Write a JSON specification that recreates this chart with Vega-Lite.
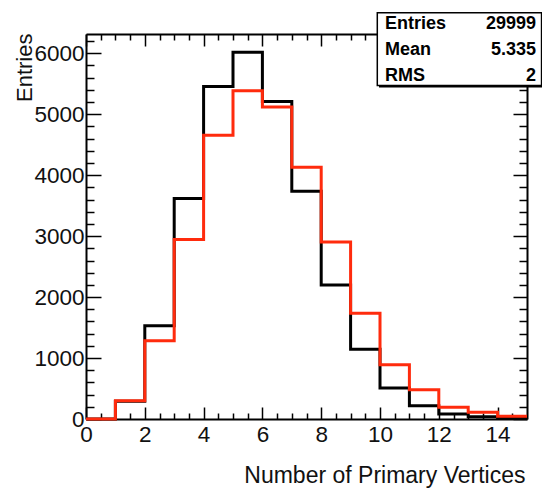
{
  "$schema": "https://vega.github.io/schema/vega-lite/v6.json",
  "width": 441,
  "height": 385,
  "autosize": {"type": "none"},
  "padding": {"left": 86, "top": 34, "right": 15, "bottom": 70},
  "background": "white",
  "config": {
    "view": {"stroke": null},
    "font": "Liberation Sans",
    "axis": {"grid": false, "labelFont": "Liberation Sans", "titleFont": "Liberation Sans", "domainColor": "black", "tickColor": "black"}
  },
  "datasets": {
    "hist": [
      {"series": "black", "lo": 0, "hi": 1, "count": 0},
      {"series": "black", "lo": 1, "hi": 2, "count": 290},
      {"series": "black", "lo": 2, "hi": 3, "count": 1528},
      {"series": "black", "lo": 3, "hi": 4, "count": 3617},
      {"series": "black", "lo": 4, "hi": 5, "count": 5455},
      {"series": "black", "lo": 5, "hi": 6, "count": 6017},
      {"series": "black", "lo": 6, "hi": 7, "count": 5210},
      {"series": "black", "lo": 7, "hi": 8, "count": 3737},
      {"series": "black", "lo": 8, "hi": 9, "count": 2199},
      {"series": "black", "lo": 9, "hi": 10, "count": 1146},
      {"series": "black", "lo": 10, "hi": 11, "count": 507},
      {"series": "black", "lo": 11, "hi": 12, "count": 218},
      {"series": "black", "lo": 12, "hi": 13, "count": 82},
      {"series": "black", "lo": 13, "hi": 14, "count": 35},
      {"series": "black", "lo": 14, "hi": 15, "count": 10},
      {"series": "red", "lo": 0, "hi": 1, "count": 0},
      {"series": "red", "lo": 1, "hi": 2, "count": 300},
      {"series": "red", "lo": 2, "hi": 3, "count": 1282},
      {"series": "red", "lo": 3, "hi": 4, "count": 2946},
      {"series": "red", "lo": 4, "hi": 5, "count": 4654},
      {"series": "red", "lo": 5, "hi": 6, "count": 5385},
      {"series": "red", "lo": 6, "hi": 7, "count": 5117},
      {"series": "red", "lo": 7, "hi": 8, "count": 4130},
      {"series": "red", "lo": 8, "hi": 9, "count": 2902},
      {"series": "red", "lo": 9, "hi": 10, "count": 1735},
      {"series": "red", "lo": 10, "hi": 11, "count": 889},
      {"series": "red", "lo": 11, "hi": 12, "count": 480},
      {"series": "red", "lo": 12, "hi": 13, "count": 191},
      {"series": "red", "lo": 13, "hi": 14, "count": 109},
      {"series": "red", "lo": 14, "hi": 15, "count": 44}
    ],
    "stats": [
      {"stat": "Entries", "value": "29999"},
      {"stat": "Mean", "value": "5.335"},
      {"stat": "RMS", "value": "2"}
    ]
  },
  "resolve": {"axis": {"x": "independent", "y": "independent"}},
  "layer": [
    {
      "data": {"name": "hist"},
      "transform": [{"filter": "datum.series === 'black'"}, {"fold": ["lo", "hi"], "as": ["edge", "xv"]}],
      "mark": {"type": "line", "color": "black", "strokeWidth": 3, "strokeJoin": "miter"},
      "encoding": {
        "x": {"field": "xv", "type": "quantitative", "scale": {"domain": [0, 15], "nice": false, "zero": false},
          "axis": {"orient": "bottom", "values": [0, 2, 4, 6, 8, 10, 12, 14], "format": "d", "ticks": false, "domain": true, "domainWidth": 2,
            "labelFontSize": 22.5, "labelColor": "#111", "labelPadding": 4, "labelFlush": false, "labelOverlap": false,
            "title": "Number of Primary Vertices", "titleFontSize": 23, "titleFontWeight": "normal", "titleColor": "#111",
            "titleX": 439, "titleY": 63, "titleAlign": "right", "titleBaseline": "alphabetic"}},
        "y": {"field": "count", "type": "quantitative", "scale": {"domain": [0, 6316], "nice": false, "zero": false},
          "axis": {"orient": "left", "values": [0, 1000, 2000, 3000, 4000, 5000, 6000], "format": "d", "ticks": false, "domain": true, "domainWidth": 2,
            "labelFontSize": 22.5, "labelColor": "#111", "labelPadding": 2, "labelBaseline": "middle", "labelOverlap": false, "labelFlush": false,
            "title": "Entries", "titleFontSize": 22, "titleFontWeight": "normal", "titleColor": "#111",
            "titleAngle": -90, "titleX": -55, "titleY": -1, "titleAlign": "right", "titleBaseline": "alphabetic"}},
        "order": [{"field": "lo", "type": "quantitative"}, {"field": "edge", "type": "nominal", "sort": "descending"}]
      }
    },
    {
      "data": {"name": "hist"},
      "transform": [{"filter": "datum.series === 'red'"}, {"fold": ["lo", "hi"], "as": ["edge", "xv"]}],
      "mark": {"type": "line", "color": "#ff2b0d", "strokeWidth": 3, "strokeJoin": "miter"},
      "encoding": {
        "x": {"field": "xv", "type": "quantitative",
          "axis": {"orient": "bottom", "values": [0, 2, 4, 6, 8, 10, 12, 14], "labels": false, "domain": false, "ticks": true, "tickSize": -12, "tickWidth": 1.5, "title": null}},
        "y": {"field": "count", "type": "quantitative",
          "axis": {"orient": "left", "values": [0, 1000, 2000, 3000, 4000, 5000, 6000], "labels": false, "domain": false, "ticks": true, "tickSize": -15, "tickWidth": 1.5, "title": null}},
        "order": [{"field": "lo", "type": "quantitative"}, {"field": "edge", "type": "nominal", "sort": "descending"}]
      }
    },
    {
      "data": {"name": "hist"},
      "mark": {"type": "point", "opacity": 0},
      "encoding": {
        "x": {"field": "lo", "type": "quantitative",
          "axis": {"orient": "bottom", "values": [0.5, 1, 1.5, 2.5, 3, 3.5, 4.5, 5, 5.5, 6.5, 7, 7.5, 8.5, 9, 9.5, 10.5, 11, 11.5, 12.5, 13, 13.5, 14.5], "labels": false, "domain": false, "ticks": true, "tickSize": -6, "tickWidth": 1.5, "title": null}},
        "y": {"field": "count", "type": "quantitative",
          "axis": {"orient": "left", "values": [200, 400, 600, 800, 1200, 1400, 1600, 1800, 2200, 2400, 2600, 2800, 3200, 3400, 3600, 3800, 4200, 4400, 4600, 4800, 5200, 5400, 5600, 5800, 6200], "labels": false, "domain": false, "ticks": true, "tickSize": -8, "tickWidth": 1.5, "title": null}}
      }
    },
    {
      "data": {"name": "hist"},
      "mark": {"type": "point", "opacity": 0},
      "encoding": {
        "x": {"field": "lo", "type": "quantitative",
          "axis": {"orient": "top", "values": [0, 2, 4, 6, 8, 10, 12, 14], "labels": false, "domain": true, "domainWidth": 2, "ticks": true, "tickSize": -12, "tickWidth": 1.5, "title": null}},
        "y": {"field": "count", "type": "quantitative",
          "axis": {"orient": "right", "values": [0, 1000, 2000, 3000, 4000, 5000, 6000], "labels": false, "domain": true, "domainWidth": 2, "ticks": true, "tickSize": -14, "tickWidth": 1.5, "title": null}}
      }
    },
    {
      "data": {"name": "hist"},
      "mark": {"type": "point", "opacity": 0},
      "encoding": {
        "x": {"field": "lo", "type": "quantitative",
          "axis": {"orient": "top", "values": [0.5, 1, 1.5, 2.5, 3, 3.5, 4.5, 5, 5.5, 6.5, 7, 7.5, 8.5, 9, 9.5, 10.5, 11, 11.5, 12.5, 13, 13.5, 14.5], "labels": false, "domain": false, "ticks": true, "tickSize": -6, "tickWidth": 1.5, "title": null}},
        "y": {"field": "count", "type": "quantitative",
          "axis": {"orient": "right", "values": [200, 400, 600, 800, 1200, 1400, 1600, 1800, 2200, 2400, 2600, 2800, 3200, 3400, 3600, 3800, 4200, 4400, 4600, 4800, 5200, 5400, 5600, 5800, 6200], "labels": false, "domain": false, "ticks": true, "tickSize": -8, "tickWidth": 1.5, "title": null}}
      }
    },
    {
      "data": {"name": "stats"},
      "transform": [{"filter": "datum.stat === 'Entries'"}],
      "mark": {"type": "rect", "color": "black"},
      "encoding": {
        "x": {"datum": 9.966, "type": "quantitative", "axis": null},
        "x2": {"datum": 15.56},
        "y": {"datum": 6632, "type": "quantitative", "axis": null},
        "y2": {"datum": 5438}
      }
    },
    {
      "data": {"name": "stats"},
      "transform": [{"filter": "datum.stat === 'Entries'"}],
      "mark": {"type": "rect", "fill": "white", "stroke": "black", "strokeWidth": 1.5},
      "encoding": {
        "x": {"datum": 9.908, "type": "quantitative", "axis": null},
        "x2": {"datum": 15.495},
        "y": {"datum": 6665, "type": "quantitative", "axis": null},
        "y2": {"datum": 5471}
      }
    },
    {
      "data": {"name": "stats"},
      "transform": [{"filter": "datum.stat === 'Entries'"}],
      "mark": {"type": "text", "align": "left", "baseline": "alphabetic", "fontSize": 18, "fontWeight": "bold", "font": "Liberation Sans", "color": "black"},
      "encoding": {"x": {"datum": 10.17, "type": "quantitative", "axis": null}, "y": {"datum": 6398, "type": "quantitative", "axis": null}, "text": {"field": "stat"}}
    },
    {
      "data": {"name": "stats"},
      "transform": [{"filter": "datum.stat === 'Entries'"}],
      "mark": {"type": "text", "align": "right", "baseline": "alphabetic", "fontSize": 18, "fontWeight": "bold", "font": "Liberation Sans", "color": "black"},
      "encoding": {"x": {"datum": 15.306, "type": "quantitative", "axis": null}, "y": {"datum": 6398, "type": "quantitative", "axis": null}, "text": {"field": "value"}}
    },
    {
      "data": {"name": "stats"},
      "transform": [{"filter": "datum.stat === 'Mean'"}],
      "mark": {"type": "text", "align": "left", "baseline": "alphabetic", "fontSize": 18, "fontWeight": "bold", "font": "Liberation Sans", "color": "black"},
      "encoding": {"x": {"datum": 10.17, "type": "quantitative", "axis": null}, "y": {"datum": 5971, "type": "quantitative", "axis": null}, "text": {"field": "stat"}}
    },
    {
      "data": {"name": "stats"},
      "transform": [{"filter": "datum.stat === 'Mean'"}],
      "mark": {"type": "text", "align": "right", "baseline": "alphabetic", "fontSize": 18, "fontWeight": "bold", "font": "Liberation Sans", "color": "black"},
      "encoding": {"x": {"datum": 15.306, "type": "quantitative", "axis": null}, "y": {"datum": 5971, "type": "quantitative", "axis": null}, "text": {"field": "value"}}
    },
    {
      "data": {"name": "stats"},
      "transform": [{"filter": "datum.stat === 'RMS'"}],
      "mark": {"type": "text", "align": "left", "baseline": "alphabetic", "fontSize": 18, "fontWeight": "bold", "font": "Liberation Sans", "color": "black"},
      "encoding": {"x": {"datum": 10.17, "type": "quantitative", "axis": null}, "y": {"datum": 5550, "type": "quantitative", "axis": null}, "text": {"field": "stat"}}
    },
    {
      "data": {"name": "stats"},
      "transform": [{"filter": "datum.stat === 'RMS'"}],
      "mark": {"type": "text", "align": "right", "baseline": "alphabetic", "fontSize": 18, "fontWeight": "bold", "font": "Liberation Sans", "color": "black"},
      "encoding": {"x": {"datum": 15.306, "type": "quantitative", "axis": null}, "y": {"datum": 5550, "type": "quantitative", "axis": null}, "text": {"field": "value"}}
    }
  ]
}
